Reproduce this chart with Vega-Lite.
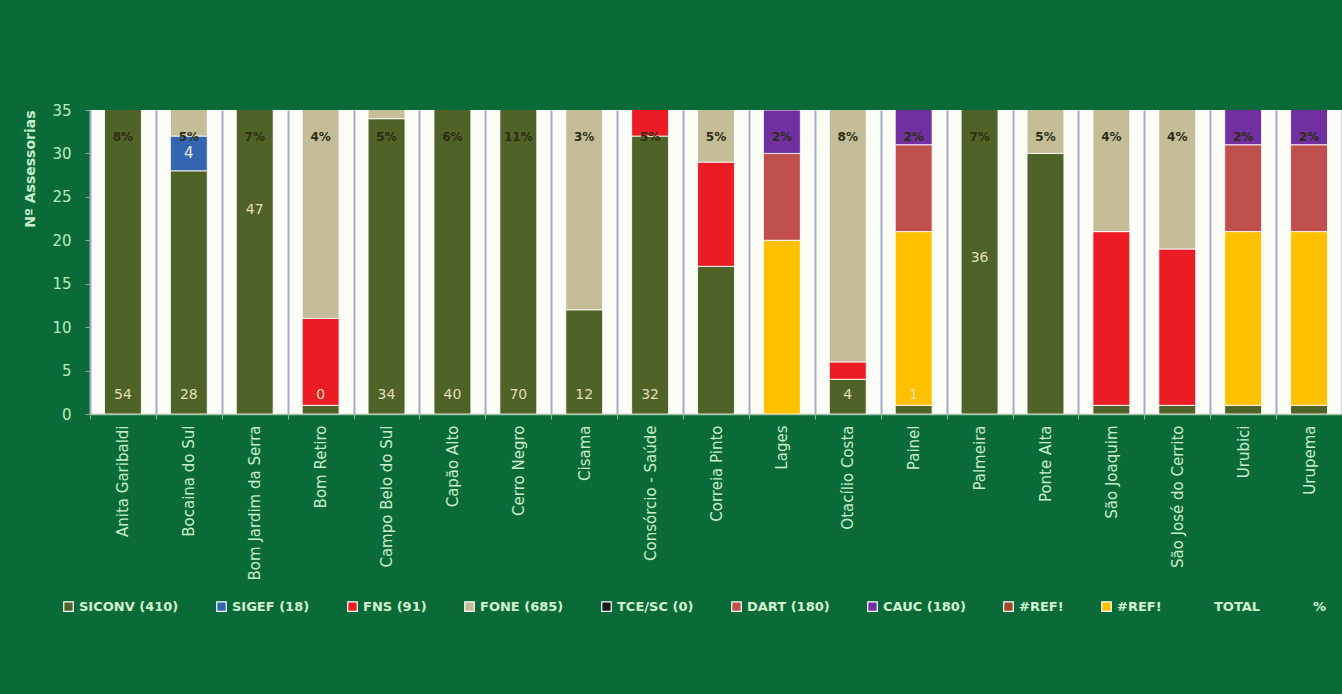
{
  "$schema": "https://vega.github.io/schema/vega-lite/v6.json",
  "width": 1252,
  "height": 304,
  "autosize": {"type": "none"},
  "padding": {"left": 90, "top": 110, "right": 0, "bottom": 280},
  "background": "#0b6b38",
  "config": {
    "view": {"fill": "#fdfdf8", "stroke": null},
    "font": "DejaVu Sans"
  },
  "datasets": {
    "seg": [
      {"m": "Anita Garibaldi", "s": "SICONV (410)", "k": 1, "v": 54},
      {"m": "Anita Garibaldi", "s": "FONE (685)", "k": 6, "v": 70},
      {"m": "Bocaina do Sul", "s": "SICONV (410)", "k": 1, "v": 28},
      {"m": "Bocaina do Sul", "s": "SIGEF (18)", "k": 4, "v": 4},
      {"m": "Bocaina do Sul", "s": "FONE (685)", "k": 6, "v": 45},
      {"m": "Bom Jardim da Serra", "s": "SICONV (410)", "k": 1, "v": 47},
      {"m": "Bom Jardim da Serra", "s": "FONE (685)", "k": 6, "v": 60},
      {"m": "Bom Retiro", "s": "SICONV (410)", "k": 1, "v": 1},
      {"m": "Bom Retiro", "s": "FNS (91)", "k": 3, "v": 10},
      {"m": "Bom Retiro", "s": "FONE (685)", "k": 6, "v": 50},
      {"m": "Campo Belo do Sul", "s": "SICONV (410)", "k": 1, "v": 34},
      {"m": "Campo Belo do Sul", "s": "FONE (685)", "k": 6, "v": 44},
      {"m": "Capão Alto", "s": "SICONV (410)", "k": 1, "v": 40},
      {"m": "Capão Alto", "s": "FONE (685)", "k": 6, "v": 55},
      {"m": "Cerro Negro", "s": "SICONV (410)", "k": 1, "v": 70},
      {"m": "Cerro Negro", "s": "FONE (685)", "k": 6, "v": 100},
      {"m": "Cisama", "s": "SICONV (410)", "k": 1, "v": 12},
      {"m": "Cisama", "s": "FONE (685)", "k": 6, "v": 35},
      {"m": "Consórcio - Saúde", "s": "SICONV (410)", "k": 1, "v": 32},
      {"m": "Consórcio - Saúde", "s": "FNS (91)", "k": 3, "v": 29},
      {"m": "Consórcio - Saúde", "s": "FONE (685)", "k": 6, "v": 15},
      {"m": "Correia Pinto", "s": "SICONV (410)", "k": 1, "v": 17},
      {"m": "Correia Pinto", "s": "FNS (91)", "k": 3, "v": 12},
      {"m": "Correia Pinto", "s": "FONE (685)", "k": 6, "v": 48},
      {"m": "Lages", "s": "#REF! ", "k": 2, "v": 20},
      {"m": "Lages", "s": "DART (180)", "k": 5, "v": 10},
      {"m": "Lages", "s": "CAUC (180)", "k": 7, "v": 5},
      {"m": "Otacílio Costa", "s": "SICONV (410)", "k": 1, "v": 4},
      {"m": "Otacílio Costa", "s": "FNS (91)", "k": 3, "v": 2},
      {"m": "Otacílio Costa", "s": "FONE (685)", "k": 6, "v": 119},
      {"m": "Painel", "s": "SICONV (410)", "k": 1, "v": 1},
      {"m": "Painel", "s": "#REF! ", "k": 2, "v": 20},
      {"m": "Painel", "s": "DART (180)", "k": 5, "v": 10},
      {"m": "Painel", "s": "CAUC (180)", "k": 7, "v": 5},
      {"m": "Palmeira", "s": "SICONV (410)", "k": 1, "v": 36},
      {"m": "Palmeira", "s": "FONE (685)", "k": 6, "v": 70},
      {"m": "Ponte Alta", "s": "SICONV (410)", "k": 1, "v": 30},
      {"m": "Ponte Alta", "s": "FONE (685)", "k": 6, "v": 48},
      {"m": "São Joaquim", "s": "SICONV (410)", "k": 1, "v": 1},
      {"m": "São Joaquim", "s": "FNS (91)", "k": 3, "v": 20},
      {"m": "São Joaquim", "s": "FONE (685)", "k": 6, "v": 42},
      {"m": "São José do Cerrito", "s": "SICONV (410)", "k": 1, "v": 1},
      {"m": "São José do Cerrito", "s": "FNS (91)", "k": 3, "v": 18},
      {"m": "São José do Cerrito", "s": "FONE (685)", "k": 6, "v": 44},
      {"m": "Urubici", "s": "SICONV (410)", "k": 1, "v": 1},
      {"m": "Urubici", "s": "#REF! ", "k": 2, "v": 20},
      {"m": "Urubici", "s": "DART (180)", "k": 5, "v": 10},
      {"m": "Urubici", "s": "CAUC (180)", "k": 7, "v": 5},
      {"m": "Urupema", "s": "SICONV (410)", "k": 1, "v": 1},
      {"m": "Urupema", "s": "#REF! ", "k": 2, "v": 20},
      {"m": "Urupema", "s": "DART (180)", "k": 5, "v": 10},
      {"m": "Urupema", "s": "CAUC (180)", "k": 7, "v": 5}
    ],
    "cat": [
      {"m": "Anita Garibaldi", "pct": "8%", "n": 54},
      {"m": "Bocaina do Sul", "pct": "5%", "n": 28},
      {"m": "Bom Jardim da Serra", "pct": "7%", "n": 47},
      {"m": "Bom Retiro", "pct": "4%", "n": 0},
      {"m": "Campo Belo do Sul", "pct": "5%", "n": 34},
      {"m": "Capão Alto", "pct": "6%", "n": 40},
      {"m": "Cerro Negro", "pct": "11%", "n": 70},
      {"m": "Cisama", "pct": "3%", "n": 12},
      {"m": "Consórcio - Saúde", "pct": "5%", "n": 32},
      {"m": "Correia Pinto", "pct": "5%", "n": null},
      {"m": "Lages", "pct": "2%", "n": null},
      {"m": "Otacílio Costa", "pct": "8%", "n": 4},
      {"m": "Painel", "pct": "2%", "n": 1},
      {"m": "Palmeira", "pct": "7%", "n": 36},
      {"m": "Ponte Alta", "pct": "5%", "n": null},
      {"m": "São Joaquim", "pct": "4%", "n": null},
      {"m": "São José do Cerrito", "pct": "4%", "n": null},
      {"m": "Urubici", "pct": "2%", "n": null},
      {"m": "Urupema", "pct": "2%", "n": null}
    ]
  },
  "layer": [
    {
      "data": {"name": "seg"},
      "mark": {"type": "bar", "clip": true, "width": {"band": 0.56}, "stroke": "#ffffff", "strokeWidth": 1, "strokeOpacity": 0.85},
      "encoding": {
        "x": {
          "field": "m", "type": "nominal", "sort": null,
          "scale": {"paddingInner": 0, "paddingOuter": 0},
          "axis": {
            "title": null, "labelAngle": -90, "labelColor": "#c9eecb", "labelFontSize": 15,
            "labelFont": "DejaVu Sans", "labelPadding": 6, "labelLimit": 300,
            "tickBand": "extent", "grid": true, "gridColor": "#a4aacb", "gridWidth": 2,
            "ticks": true, "tickColor": "#8fb89a", "tickSize": 5,
            "domainColor": "#a8c4a8", "domainWidth": 1.5
          }
        },
        "y": {
          "field": "v", "type": "quantitative", "stack": "zero",
          "scale": {"domain": [0, 35], "nice": false},
          "axis": {
            "title": "Nº Assessorias", "values": [0, 5, 10, 15, 20, 25, 30, 35],
            "grid": false, "domain": false, "labelColor": "#b8ecc0", "labelFontSize": 15,
            "tickColor": "#7fb38f", "tickSize": 5, "labelPadding": 14,
            "titleColor": "#c9eecb", "titleFontSize": 14, "titleFontWeight": "bold",
            "titleAnchor": "end", "titlePadding": 14
          }
        },
        "color": {
          "field": "s", "type": "nominal",
          "scale": {
            "domain": ["SICONV (410)", "SIGEF (18)", "FNS (91)", "FONE (685)", "TCE/SC (0)", "DART (180)", "CAUC (180)", "#REF!", "#REF! ", "TOTAL", "%"],
            "range": ["#4f6228", "#3465b0", "#ec1c24", "#c4bd97", "#1a1a1a", "#c0504d", "#7030a0", "#9a4a2a", "#ffc000", "rgba(0,0,0,0)", "rgba(0,0,0,0)"]
          },
          "legend": {
            "orient": "none", "legendX": -28, "legendY": 490, "direction": "horizontal",
            "columns": 11, "gridAlign": "each", "columnPadding": 35, "title": null,
            "symbolType": "square", "symbolSize": 90, "symbolStrokeWidth": 1.2, "symbolStrokeColor": "#ffffff",
            "labelColor": "#d2f2d2", "labelFont": "DejaVu Sans", "labelFontWeight": "bold",
            "labelFontSize": 13, "labelLimit": 200, "labelOffset": 4,
            "encode": {"symbols": {"update": {"opacity": {"signal": "datum.value === 'TOTAL' || datum.value === '%' ? 0 : 1"}}}}
          }
        },
        "order": {"field": "k", "type": "quantitative"}
      }
    },
    {
      "data": {"name": "cat"},
      "mark": {"type": "text", "fontSize": 12, "fontWeight": "bold", "color": "#2e2d12", "baseline": "middle"},
      "encoding": {
        "x": {"field": "m", "type": "nominal", "sort": null},
        "y": {"datum": 31.9, "type": "quantitative", "scale": {"domain": [0, 35], "nice": false}, "axis": null},
        "text": {"field": "pct"}
      }
    },
    {
      "data": {"name": "cat"},
      "transform": [{"filter": "isValid(datum.n) && datum.m !== 'Bom Jardim da Serra' && datum.m !== 'Palmeira'"}],
      "mark": {"type": "text", "fontSize": 14, "color": "#e2dfb8", "baseline": "middle"},
      "encoding": {
        "x": {"field": "m", "type": "nominal", "sort": null},
        "y": {"datum": 2.2, "type": "quantitative", "scale": {"domain": [0, 35], "nice": false}, "axis": null},
        "text": {"field": "n"}
      }
    },
    {
      "data": {"name": "cat"},
      "transform": [{"filter": {"field": "m", "oneOf": ["Bom Jardim da Serra", "Palmeira"]}}],
      "mark": {"type": "text", "fontSize": 14, "color": "#e2dfb8", "baseline": "middle"},
      "encoding": {
        "x": {"field": "m", "type": "nominal", "sort": null},
        "y": {"field": "n", "type": "quantitative", "scale": {"domain": [0, 70], "nice": false}, "axis": null},
        "text": {"field": "n"}
      }
    },
    {
      "data": {"name": "seg"},
      "transform": [{"filter": {"field": "s", "equal": "SIGEF (18)"}}],
      "mark": {"type": "text", "fontSize": 15, "color": "#e6ecf8", "baseline": "middle"},
      "encoding": {
        "x": {"field": "m", "type": "nominal", "sort": null},
        "y": {"datum": 30, "type": "quantitative", "scale": {"domain": [0, 35], "nice": false}, "axis": null},
        "text": {"field": "v"}
      }
    }
  ],
  "resolve": {"scale": {"y": "independent"}}
}
